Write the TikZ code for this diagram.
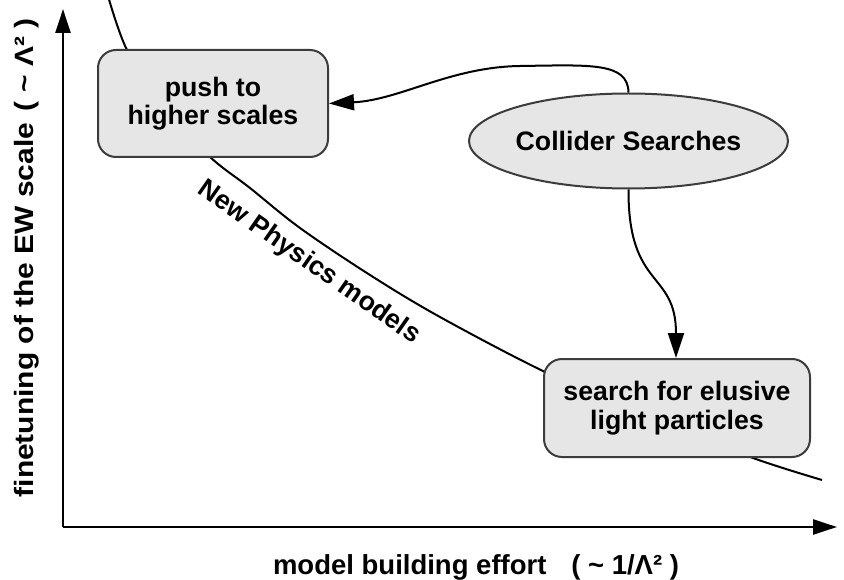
\documentclass[tikz,border=0pt]{standalone}
\usepackage{fontspec}
\setmainfont{Liberation Sans}
\newfontfamily\ylabfont[FakeStretch=1.13]{Liberation Sans}
\usetikzlibrary{arrows.meta,shapes.geometric}
\definecolor{boxfill}{HTML}{E6E6E6}
\definecolor{boxborder}{HTML}{3C3C3C}
\begin{document}
\begin{tikzpicture}[x=1pt,y=-1pt,
  txt/.style={font=\fontsize{26.7}{28.5}\selectfont\bfseries},
  boxnode/.style={txt, draw=boxborder, fill=boxfill, line width=2pt, rounded corners=18pt, align=center, inner sep=0pt},
  ellnode/.style={txt, ellipse, draw=boxborder, fill=boxfill, line width=2pt, inner sep=0pt},
  axis/.style={line width=2.4pt, -{Triangle[length=24pt,width=15pt]}},
  conn/.style={line width=2pt, -{Triangle[length=25pt,width=16pt]}},
  curve/.style={line width=2pt}
]
\useasboundingbox (0,0) rectangle (844,580);

% axes
\coordinate (O) at (63,527);
\coordinate (Ytip) at (63,9);
\coordinate (Xtip) at (837,527);
\draw[axis] (O) -- (Ytip);
\draw[axis] (O) -- (Xtip);

% new physics curve
\draw[curve] plot[smooth, tension=0.55] coordinates {(108,-4) (127,50) (162,102) (208,155) (250,188) (300,228) (370,275) (440,317) (545,372) (650,418) (753,458) (822,480)};

% nodes
\node[boxnode, minimum width=230pt, minimum height=107pt] (push) at (213,103.5) {push to\\higher scales};
\node[ellnode, minimum width=313pt, minimum height=95pt] (coll) at (628.5,141) {Collider Searches};
\node[boxnode, minimum width=266pt, minimum height=98pt] (light) at (677,408) {search for elusive\\light particles};

% connectors
\draw[conn] (coll.north) .. controls (628,62) and (590,65) .. (520,66) .. controls (450,67) and (400,100) .. (push.east);
\draw[conn] (coll.south) .. controls (628,290) and (676,270) .. (light.north -| 676,0);

% labels
\node[txt, anchor=base, rotate=-35] (np) at (305,268.5) {New Physics models};
\node[font=\fontsize{27.5}{30}\selectfont\bfseries, anchor=base] (xlab) at (476,574) {model building effort\hspace{0.9em}( \textasciitilde{} 1/Λ² )};
\node[font=\fontsize{26.5}{30}\ylabfont\bfseries, anchor=base, rotate=90] (ylab) at (34,258) {finetuning of the EW scale\hspace{0.45em}( \textasciitilde{} Λ² )};
\end{tikzpicture}
\end{document}
